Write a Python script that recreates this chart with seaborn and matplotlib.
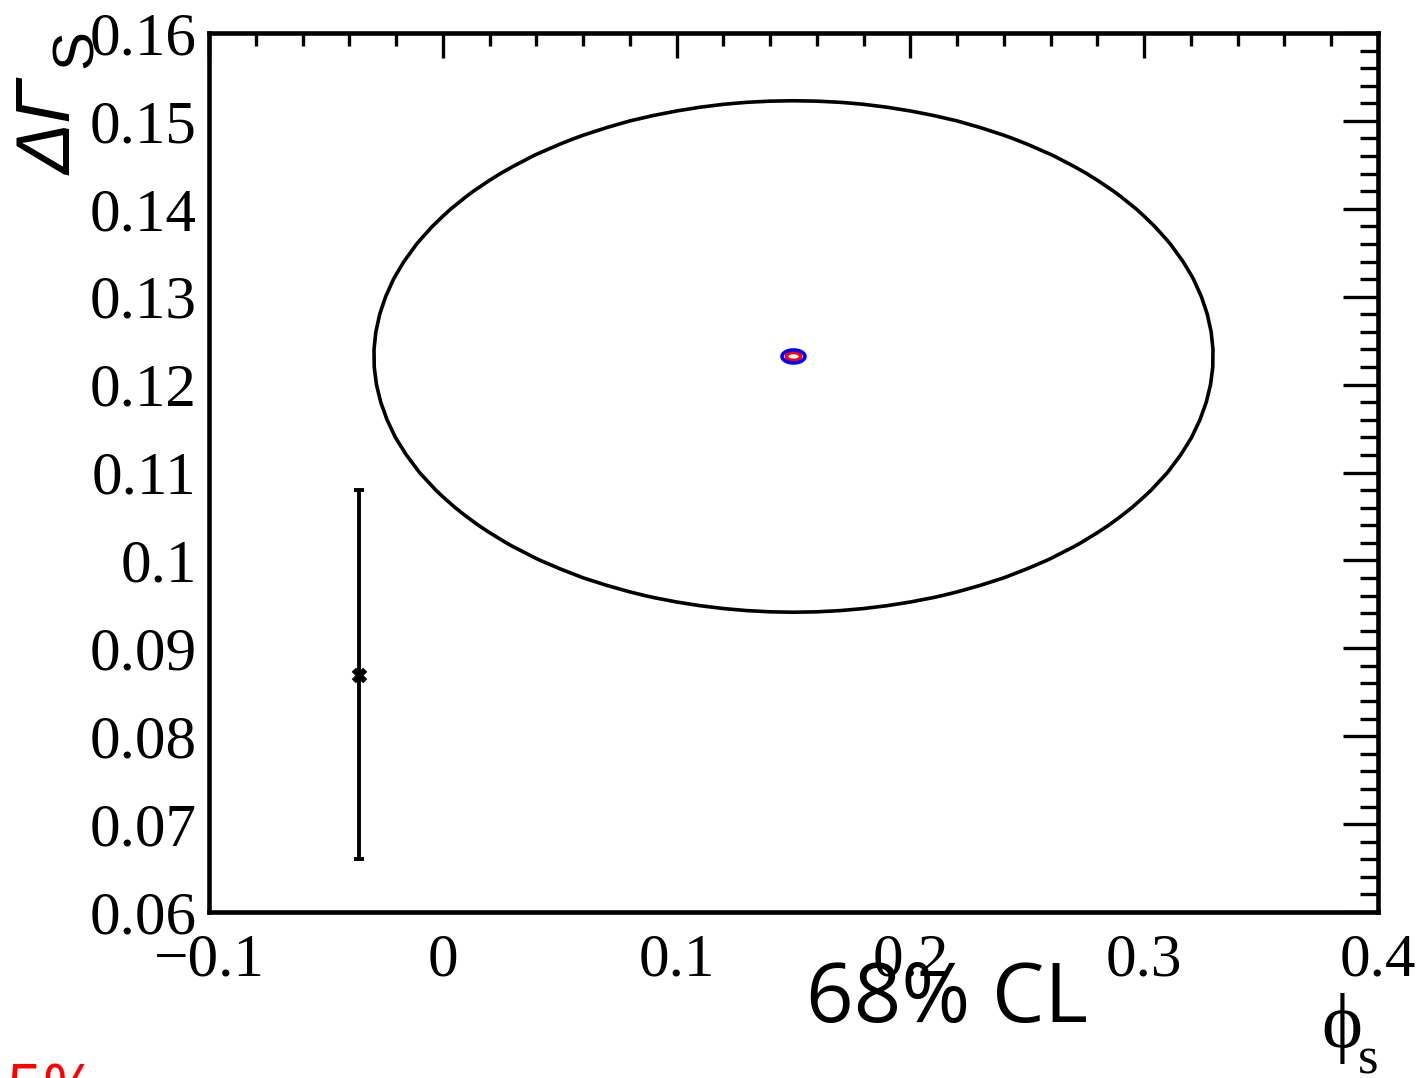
import numpy as np
import matplotlib
matplotlib.use("Agg")
import matplotlib.pyplot as plt
from matplotlib.ticker import FixedLocator, FixedFormatter, MultipleLocator
import seaborn as sns
import pandas as pd

# ---- data -------------------------------------------------------------
# axis ranges
phi_range = [-0.1, 0.4]
dgs_range = [0.06, 0.16]

# tick values and labels
x_ticks = [-0.1, 0.0, 0.1, 0.2, 0.3, 0.4]
x_tick_labels = ["\u22120.1", "0", "0.1", "0.2", "0.3", "0.4"]
y_ticks = [0.06, 0.07, 0.08, 0.09, 0.10, 0.11, 0.12, 0.13, 0.14, 0.15, 0.16]
y_tick_labels = ["0.06", "0.07", "0.08", "0.09", "0.1", "0.11", "0.12",
                 "0.13", "0.14", "0.15", "0.16"]

# fit centre (phi_s, Delta Gamma_s)
fit_center = [0.150, 0.1232]
# half axes of the wide 68% CL contour
wide_half_axes = [0.1795, 0.0291]
# widths of the narrow fit (red 68% CL, blue 95% CL contours)
narrow_sigma = [0.0020, 0.0003]
narrow_levels = [2.30, 5.99]
narrow_colors = ["red", "blue"]

# single measurement with its error
meas_phi = [-0.036]
meas_dgs = [0.087]
meas_err = [0.021]

# ---- figure -----------------------------------------------------------
sns.set_theme(style="white")
plt.rcParams["font.family"] = ["Liberation Serif", "DejaVu Sans"]
plt.rcParams["text.color"] = "black"
plt.rcParams["axes.labelcolor"] = "black"
plt.rcParams["xtick.color"] = "black"
plt.rcParams["ytick.color"] = "black"

W, H = 1424, 1078
fig = plt.figure(figsize=(W / 100, H / 100), dpi=100)
fig.patch.set_facecolor("white")
ax = fig.add_axes([209 / W, 1 - 912 / H, (1378 - 209) / W, (912 - 33) / H])
ax.set_facecolor("white")

# wide contour on a coarse grid
gx = np.linspace(phi_range[0], phi_range[1], 51)
gy = np.linspace(dgs_range[0], dgs_range[1], 51)
GX, GY = np.meshgrid(gx, gy)
wide = ((GX - fit_center[0]) / wide_half_axes[0]) ** 2 + \
       ((GY - fit_center[1]) / wide_half_axes[1]) ** 2
ax.contour(GX, GY, wide, levels=[1.0], colors="black", linewidths=2.6)

# narrow contours on a fine local grid
fx = np.linspace(fit_center[0] - 0.01, fit_center[0] + 0.01, 81)
fy = np.linspace(fit_center[1] - 0.0015, fit_center[1] + 0.0015, 81)
FX, FY = np.meshgrid(fx, fy)
narrow = ((FX - fit_center[0]) / narrow_sigma[0]) ** 2 + \
         ((FY - fit_center[1]) / narrow_sigma[1]) ** 2
for lvl, col in zip(narrow_levels, narrow_colors):
    ax.contour(FX, FY, narrow, levels=[lvl], colors=col, linewidths=2.6)

# measurement with error bar
ax.errorbar(meas_phi, meas_dgs, yerr=meas_err, fmt="none", ecolor="black",
            elinewidth=2.8, capsize=3.5, capthick=2.8)
meas_df = pd.DataFrame({"phi": meas_phi, "dgs": meas_dgs})
sns.scatterplot(data=meas_df, x="phi", y="dgs", ax=ax, marker="X", s=110,
                color="black", edgecolor="black", linewidth=0.5, zorder=5)

# axes styling
ax.set_xlim(phi_range)
ax.set_ylim(dgs_range)
ax.set_xlabel("")
ax.set_ylabel("")
ax.xaxis.set_major_locator(FixedLocator(x_ticks))
ax.xaxis.set_major_formatter(FixedFormatter(x_tick_labels))
ax.yaxis.set_major_locator(FixedLocator(y_ticks))
ax.yaxis.set_major_formatter(FixedFormatter(y_tick_labels))
ax.xaxis.set_minor_locator(MultipleLocator(0.02))
ax.yaxis.set_minor_locator(MultipleLocator(0.002))

for s in ax.spines.values():
    s.set_visible(True)
    s.set_linewidth(3.3)
    s.set_color("black")

ax.tick_params(which="both", direction="in", top=True, right=True,
               colors="black", width=2.4)
ax.tick_params(axis="x", which="major", length=18, pad=15, labelsize=44)
ax.tick_params(axis="x", which="minor", length=9)
ax.tick_params(axis="y", which="major", length=25, pad=9, labelsize=44)
ax.tick_params(axis="y", which="minor", length=13)

# axis titles
fig.text(72 / W, 1 - 175 / H, "\u0394\u0393", rotation=90, rotation_mode="anchor",
         ha="left", va="baseline", fontsize=55, fontstyle="italic",
         color="black", family=["Liberation Sans", "DejaVu Sans"])
fig.text(92 / W, 1 - 68 / H, "S", rotation=90, rotation_mode="anchor",
         ha="left", va="baseline", fontsize=42, color="black",
         family=["Liberation Sans", "DejaVu Sans"])
fig.text(1321 / W, 1 - 1047 / H, "\u03d5", ha="left", va="baseline",
         fontsize=56, color="black", family=["Liberation Serif", "DejaVu Serif"])
fig.text(1358 / W, 1 - 1073 / H, "s", ha="left", va="baseline",
         fontsize=38, color="black", family=["Liberation Serif", "DejaVu Serif"])

# confidence level annotations
fig.text(806 / W, 1 - 1022 / H, "68% CL", ha="left", va="baseline",
         fontsize=60, color="black", family=["Open Sans", "DejaVu Sans"])
fig.text(6 / W, 1 - 1112 / H, "5%", ha="left", va="baseline",
         fontsize=47, color="red", family=["Open Sans", "DejaVu Sans"])

fig.savefig("out.png", dpi=100)
